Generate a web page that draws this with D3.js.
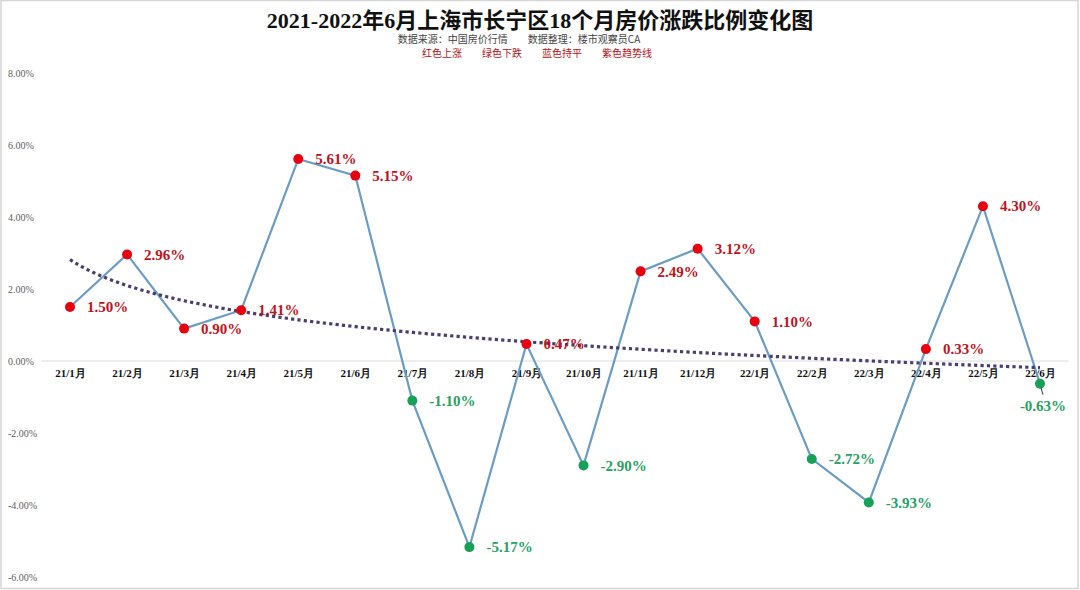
<!DOCTYPE html>
<html>
<head>
<meta charset="utf-8">
<script src="https://cdn.jsdelivr.net/npm/d3@7"></script>
<style>
  html, body { margin: 0; padding: 0; background: #ffffff; }
  svg { display: block; }
</style>
</head>
<body>
<svg id="chart" width="1080" height="590"></svg>
<script>
// ---------- data ----------
const categories = ["21/1月","21/2月","21/3月","21/4月","21/5月","21/6月","21/7月","21/8月","21/9月",
                    "21/10月","21/11月","21/12月","22/1月","22/2月","22/3月","22/4月","22/5月","22/6月"];
const changeValues = [1.50, 2.96, 0.90, 1.41, 5.61, 5.15, -1.10, -5.17, 0.47,
                      -2.90, 2.49, 3.12, 1.10, -2.72, -3.93, 0.33, 4.30, -0.63];
const yTickValues = [-6, -4, -2, 0, 2, 4, 6, 8];
const titleText = "2021-2022年6月上海市长宁区18个月房价涨跌比例变化图";
const sourceParts = ["数据来源：中国房价行情", "数据整理：楼市观察员CA"];
const legendParts = ["红色上涨", "绿色下跌", "蓝色持平", "紫色趋势线"];

// ---------- setup ----------
const W = 1080, H = 590;
const svg = d3.select("#chart");
const serif = "'Liberation Serif','Times New Roman',serif";
const cjk = "'Liberation Serif','Noto Sans CJK SC',serif";

const x = d3.scalePoint().domain(categories).range([70, 1040]);
const y = d3.scaleLinear().domain([-6, 8]).range([577, 73]);
const step = x.step();

const RED_DOT = "#e8000f", GREEN_DOT = "#17a058";
const RED_TXT = "#c0121c", GREEN_TXT = "#25a163";
const LINE_COL = "#6b9cc4", TREND_COL = "#4b3d6e";

const pct = d => d3.format(".2f")(d).replace("\u2212", "-") + "%";

// page border
svg.append("rect").attr("x", 1).attr("y", 0.5).attr("width", W - 3).attr("height", H - 2)
  .attr("fill", "none").attr("stroke", "#d6d6d6").attr("stroke-width", 1.5);

// ---------- titles ----------
svg.append("text").attr("x", 540).attr("y", 28).attr("text-anchor", "middle")
  .attr("font-family", cjk).attr("font-weight", "bold").attr("font-size", 22)
  .attr("fill", "#111").text(titleText);

svg.append("text").attr("x", 519).attr("y", 43).attr("text-anchor", "middle")
  .attr("font-family", "'Noto Sans CJK SC',sans-serif").attr("font-size", 10).attr("fill", "#444")
  .text(sourceParts.join("\u3000\u3000"));

svg.append("text").attr("x", 537).attr("y", 57).attr("text-anchor", "middle")
  .attr("font-family", "'Noto Sans CJK SC',sans-serif").attr("font-size", 10).attr("fill", "#b0141c")
  .text(legendParts.join("\u3000\u3000"));

// ---------- axes ----------
const yAxis = d3.axisLeft(y).tickValues(yTickValues).tickSize(0).tickFormat(pct);
const gy = svg.append("g").attr("transform", "translate(8,0)").call(yAxis);
gy.select(".domain").remove();
gy.selectAll("text").attr("x", 0).attr("text-anchor", "start")
  .attr("font-family", serif).attr("font-size", 10).attr("fill", "#606060");

// zero baseline
svg.append("line")
  .attr("x1", x.range()[0] - step / 2).attr("x2", x.range()[1] + step / 2)
  .attr("y1", y(0)).attr("y2", y(0))
  .attr("stroke", "#dcdcdc").attr("stroke-width", 1);

const xAxis = d3.axisBottom(x).tickSize(0).tickPadding(8);
const gx = svg.append("g").attr("transform", `translate(0,${y(0)})`).call(xAxis);
gx.select(".domain").remove();
gx.selectAll("text").attr("font-family", serif).attr("font-weight", "bold")
  .attr("font-size", 11).attr("fill", "#111");

// ---------- series line ----------
const pts = categories.map((c, i) => ({ c, v: changeValues[i], i }));
svg.append("path").datum(pts)
  .attr("d", d3.line().x(d => x(d.c)).y(d => y(d.v)))
  .attr("fill", "none").attr("stroke", LINE_COL).attr("stroke-width", 2.2);

// ---------- logarithmic trend line (least squares on ln(index)) ----------
const lx = pts.map(d => Math.log(d.i + 1));
const mx = d3.mean(lx), my = d3.mean(changeValues);
const b = d3.sum(lx, (v, k) => (v - mx) * (changeValues[k] - my)) / d3.sum(lx, v => (v - mx) ** 2);
const a = my - b * mx;
const trend = d3.range(1, categories.length + 0.001, 0.1).map(t => ({ t, v: a + b * Math.log(t) }));
svg.append("path").datum(trend)
  .attr("d", d3.line().x(d => x.range()[0] + (d.t - 1) * step).y(d => y(d.v)))
  .attr("fill", "none").attr("stroke", TREND_COL).attr("stroke-width", 3.2)
  .attr("stroke-dasharray", "3.2,3.2");

// ---------- markers ----------
svg.append("g").selectAll("circle").data(pts).join("circle")
  .attr("cx", d => x(d.c)).attr("cy", d => y(d.v)).attr("r", 5)
  .attr("fill", d => d.v >= 0 ? RED_DOT : GREEN_DOT);

// ---------- labels ----------
const lastIdx = pts.length - 1;
svg.append("g").selectAll("text").data(pts).join("text")
  .attr("x", d => d.i === lastIdx ? x(d.c) + 3 : x(d.c) + 17)
  .attr("y", d => d.i === lastIdx ? y(d.v) + 22 : y(d.v))
  .attr("dy", "0.35em")
  .attr("text-anchor", d => d.i === lastIdx ? "middle" : "start")
  .attr("font-family", serif).attr("font-weight", "bold").attr("font-size", 15)
  .attr("fill", d => d.v >= 0 ? RED_TXT : GREEN_TXT)
  .text(d => pct(d.v));

// leader line for last label
const last = pts[lastIdx];
svg.append("line")
  .attr("x1", x(last.c) + 1).attr("y1", y(last.v) + 4)
  .attr("x2", x(last.c) + 3).attr("y2", y(last.v) + 11)
  .attr("stroke", "#333").attr("stroke-width", 1);
</script>
</body>
</html>
